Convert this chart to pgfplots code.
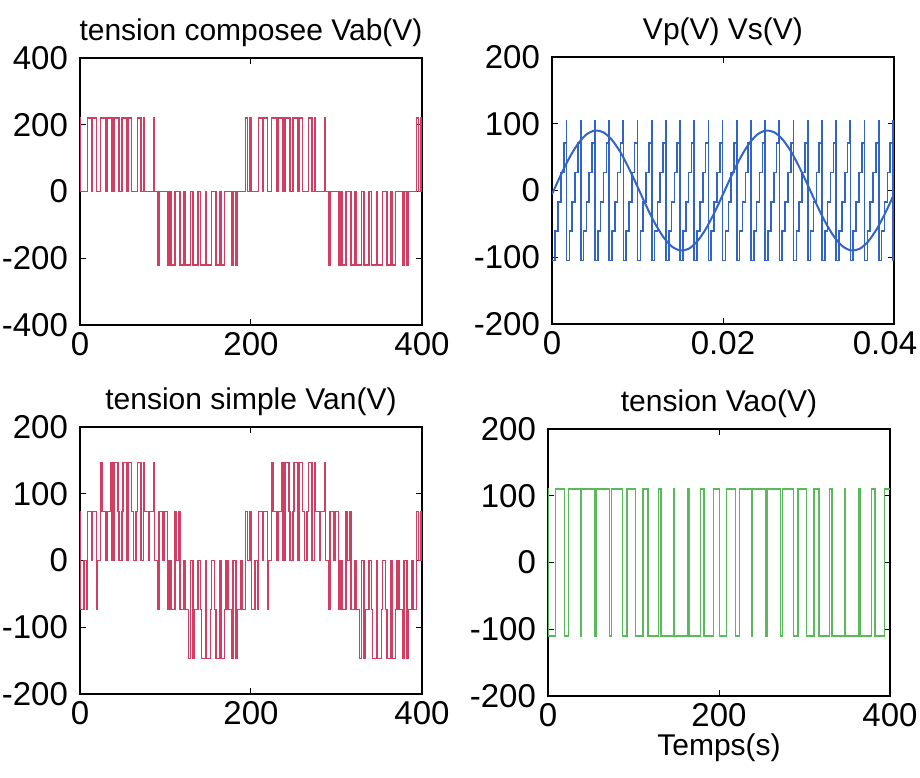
\documentclass[border=0pt]{standalone}
\usepackage{fontspec}
\setmainfont{Liberation Sans}
\usepackage{pgfplots}
\pgfplotsset{compat=1.18}
\usepackage{pgfplotstable}

\definecolor{vred}{RGB}{210,62,98}
\definecolor{vblue}{RGB}{50,100,200}
\definecolor{vgreen}{RGB}{90,185,90}

\pgfplotsset{
  panel/.style={
    scale only axis, width=171pt, height=133.5pt, anchor=south west,
    xmin=0, xmax=400, xtick={0,200,400},
    tick align=inside, major tick length=3pt,
    tick style={black, line width=0.5pt},
    axis line style={black, line width=0.8pt},
    ticklabel style={font=\fontsize{16.5}{19}\selectfont},
    yticklabel style={xshift=-2.5pt},
    title style={font=\fontsize{15}{18}\selectfont, yshift=-4pt},
    label style={font=\fontsize{15}{18}\selectfont},
    /pgf/number format/assume math mode=true,
  }
}

\begin{document}

% Vab (V), sample index 0..400
\pgfplotstableread{
t v
0 220
0.87 0
8.62 220
13.35 0
14.65 220
19.38 0
23.77 220
29.86 0
31.47 220
37.56 0
39.65 220
45.47 0
49.20 220
55.01 0
56.47 220
60.47 0
67.53 220
71.53 0
74.19 220
75.29 0
86.04 220
87.14 0
90.44 -220
92.53 0
102.13 -220
104.23 0
106.32 -220
111.04 0
116.96 -220
121.68 0
123.14 -220
129.23 0
132.11 -220
138.19 0
140.86 -220
146.68 0
147.99 -220
153.81 0
159.20 -220
163.19 0
164.81 -220
168.80 0
177.71 -220
178.80 0
182.53 -220
183.62 0
193.80 220
195.89 0
198.77 220
200.87 0
208.62 220
213.35 0
214.65 220
219.38 0
223.77 220
229.86 0
231.47 220
237.56 0
239.65 220
245.47 0
249.20 220
255.01 0
256.47 220
260.47 0
267.53 220
271.53 0
274.19 220
275.29 0
286.04 220
287.14 0
290.44 -220
292.53 0
302.13 -220
304.23 0
306.32 -220
311.04 0
316.96 -220
321.68 0
323.14 -220
329.23 0
332.11 -220
338.19 0
340.86 -220
346.68 0
347.99 -220
353.81 0
359.20 -220
363.19 0
364.81 -220
368.80 0
377.71 -220
378.80 0
382.53 -220
383.62 0
393.80 220
395.89 0
398.77 220
400 220
}\vab

% Van (V)
\pgfplotstableread{
t v
0 73.3
0.87 -73.3
4.86 0
7.53 -73.3
8.62 73.3
13.35 0
14.65 73.3
19.38 -73.3
20.47 0
23.77 146.7
25.87 73.3
29.86 0
31.47 73.3
35.47 146.7
37.56 0
39.65 146.7
44.38 73.3
45.47 0
49.20 73.3
50.29 146.7
55.01 0
56.47 146.7
60.47 73.3
62.56 0
65.44 73.3
67.53 146.7
71.53 0
74.19 146.7
75.29 73.3
80.01 0
81.32 73.3
86.04 146.7
87.14 0
90.44 -73.3
92.53 73.3
96.53 0
98.14 73.3
102.13 -73.3
104.23 0
106.32 -73.3
111.04 73.3
112.14 0
115.86 73.3
116.96 -73.3
121.68 0
123.14 -73.3
127.13 -146.7
129.23 0
132.11 -146.7
134.20 -73.3
138.19 0
140.86 -73.3
141.96 -146.7
146.68 0
147.99 -146.7
152.71 -73.3
153.81 0
157.11 -73.3
159.20 -146.7
163.19 0
164.81 -146.7
168.80 -73.3
170.89 0
172.99 -73.3
177.71 -146.7
178.80 0
182.53 -146.7
183.62 -73.3
188.35 0
189.81 -73.3
193.80 73.3
195.89 0
198.77 73.3
200.87 -73.3
204.86 0
207.53 -73.3
208.62 73.3
213.35 0
214.65 73.3
219.38 -73.3
220.47 0
223.77 146.7
225.87 73.3
229.86 0
231.47 73.3
235.47 146.7
237.56 0
239.65 146.7
244.38 73.3
245.47 0
249.20 73.3
250.29 146.7
255.01 0
256.47 146.7
260.47 73.3
262.56 0
265.44 73.3
267.53 146.7
271.53 0
274.19 146.7
275.29 73.3
280.01 0
281.32 73.3
286.04 146.7
287.14 0
290.44 -73.3
292.53 73.3
296.53 0
298.14 73.3
302.13 -73.3
304.23 0
306.32 -73.3
311.04 73.3
312.14 0
315.86 73.3
316.96 -73.3
321.68 0
323.14 -73.3
327.13 -146.7
329.23 0
332.11 -146.7
334.20 -73.3
338.19 0
340.86 -73.3
341.96 -146.7
346.68 0
347.99 -146.7
352.71 -73.3
353.81 0
357.11 -73.3
359.20 -146.7
363.19 0
364.81 -146.7
368.80 -73.3
370.89 0
372.99 -73.3
377.71 -146.7
378.80 0
382.53 -146.7
383.62 -73.3
388.35 0
389.81 -73.3
393.80 73.3
395.89 0
398.77 73.3
400 73.3
}\van

% Vao (V)
\pgfplotstableread{
t v
0 110
0.9 -110
8.6 110
19.4 -110
23.8 110
37.6 -110
39.6 110
55 -110
56.5 110
71.5 -110
74.2 110
87.1 -110
92.5 110
102.1 -110
111 110
117 -110
129.2 110
132.1 -110
146.7 110
148 -110
163.2 110
164.8 -110
178.8 110
182.5 -110
193.8 110
200.9 -110
208.6 110
219.4 -110
223.8 110
237.6 -110
239.6 110
255 -110
256.5 110
271.5 -110
274.2 110
287.1 -110
292.5 110
302.1 -110
311 110
317 -110
329.2 110
332.1 -110
346.7 110
348 -110
363.2 110
364.8 -110
378.8 110
382.5 -110
393.8 110
400 110
}\vao

% Vp carrier (sawtooth, stepped), time in units of 0.1 ms
\pgfplotstableread{
t v
0 -105
3.7 -61
7 -17
10.4 27
13.7 71
16.8 105
17 -105
20.3 -61
23.6 -17
27 27
30.3 71
33.4 105
33.6 -105
36.9 -61
40.2 -17
43.6 27
46.9 71
50 105
50.2 -105
53.5 -61
56.8 -17
60.2 27
63.5 71
66.6 105
66.8 -105
70.1 -61
73.4 -17
76.8 27
80.1 71
83.2 105
83.4 -105
86.7 -61
90 -17
93.4 27
96.7 71
99.8 105
100 -105
103.3 -61
106.6 -17
110 27
113.3 71
116.4 105
116.6 -105
119.9 -61
123.2 -17
126.6 27
129.9 71
133 105
133.2 -105
136.5 -61
139.8 -17
143.2 27
146.5 71
149.6 105
149.8 -105
153.1 -61
156.4 -17
159.8 27
163.1 71
166.2 105
166.4 -105
169.7 -61
173 -17
176.4 27
179.7 71
182.8 105
183 -105
186.3 -61
189.6 -17
193 27
196.3 71
199.4 105
199.6 -105
202.9 -61
206.2 -17
209.6 27
212.9 71
216 105
216.2 -105
219.5 -61
222.8 -17
226.2 27
229.5 71
232.6 105
232.8 -105
236.1 -61
239.4 -17
242.8 27
246.1 71
249.2 105
249.4 -105
252.7 -61
256 -17
259.4 27
262.7 71
265.8 105
266 -105
269.3 -61
272.6 -17
276 27
279.3 71
282.4 105
282.6 -105
285.9 -61
289.2 -17
292.6 27
295.9 71
299 105
299.2 -105
302.5 -61
305.8 -17
309.2 27
312.5 71
315.6 105
315.8 -105
319.1 -61
322.4 -17
325.8 27
329.1 71
332.2 105
332.4 -105
335.7 -61
339 -17
342.4 27
345.7 71
348.8 105
349 -105
352.3 -61
355.6 -17
359 27
362.3 71
365.4 105
365.6 -105
368.9 -61
372.2 -17
375.6 27
378.9 71
382 105
382.2 -105
385.5 -61
388.8 -17
392.2 27
395.5 71
398.6 105
398.8 -105
400 -105
}\vp

% Vs reference sine
\pgfplotstableread{
t v
0 -5.7
10 22.4
20 48.2
30 69.3
40 83.7
50 89.8
60 87.2
70 76.0
80 57.4
90 33.1
100 5.7
110 -22.4
120 -48.2
130 -69.3
140 -83.7
150 -89.8
160 -87.2
170 -76.0
180 -57.4
190 -33.1
200 -5.7
210 22.4
220 48.2
230 69.3
240 83.7
250 89.8
260 87.2
270 76.0
280 57.4
290 33.1
300 5.7
310 -22.4
320 -48.2
330 -69.3
340 -83.7
350 -89.8
360 -87.2
370 -76.0
380 -57.4
390 -33.1
400 -5.7
}\vs

\begin{tikzpicture}
\path[use as bounding box] (0,0) rectangle (460pt,388.5pt);

\begin{axis}[panel, at={(40pt,226pt)},
  title={tension composee Vab(V)},
  ymin=-400, ymax=400, ytick={-400,-200,0,200,400},
  yticklabels={-400,-200,0,200,400}, xticklabels={0,200,400}]
\addplot[const plot, vred, line width=0.7pt] table[x=t,y=v] {\vab};
\end{axis}

\begin{axis}[panel, at={(276pt,226.5pt)},
  title={Vp(V) Vs(V)},
  ymin=-200, ymax=200, ytick={-200,-100,0,100,200},
  yticklabels={-200,-100,0,100,200},
  xticklabels={0,0.02,{\hspace*{-9pt}0.04}}]
\addplot[const plot, vblue, line width=0.8pt] table[x=t,y=v] {\vp};
\addplot[smooth, vblue, line width=1pt] table[x=t,y=v] {\vs};
\end{axis}

\begin{axis}[panel, at={(40pt,41.5pt)},
  title={tension simple Van(V)},
  ymin=-200, ymax=200, ytick={-200,-100,0,100,200},
  yticklabels={-200,-100,0,100,200}, xticklabels={0,200,400}]
\addplot[const plot, vred, line width=0.7pt] table[x=t,y=v] {\van};
\end{axis}

\begin{axis}[panel, at={(274pt,40.5pt)},
  title={tension Vao(V)}, xlabel={Temps(s)},
  xlabel style={yshift=3pt},
  ymin=-200, ymax=200, ytick={-200,-100,0,100,200},
  yticklabels={-200,-100,0,100,200}, xticklabels={0,200,400}]
\addplot[const plot, vgreen, line width=0.6pt] table[x=t,y=v] {\vao};
\end{axis}
\end{tikzpicture}
\end{document}
